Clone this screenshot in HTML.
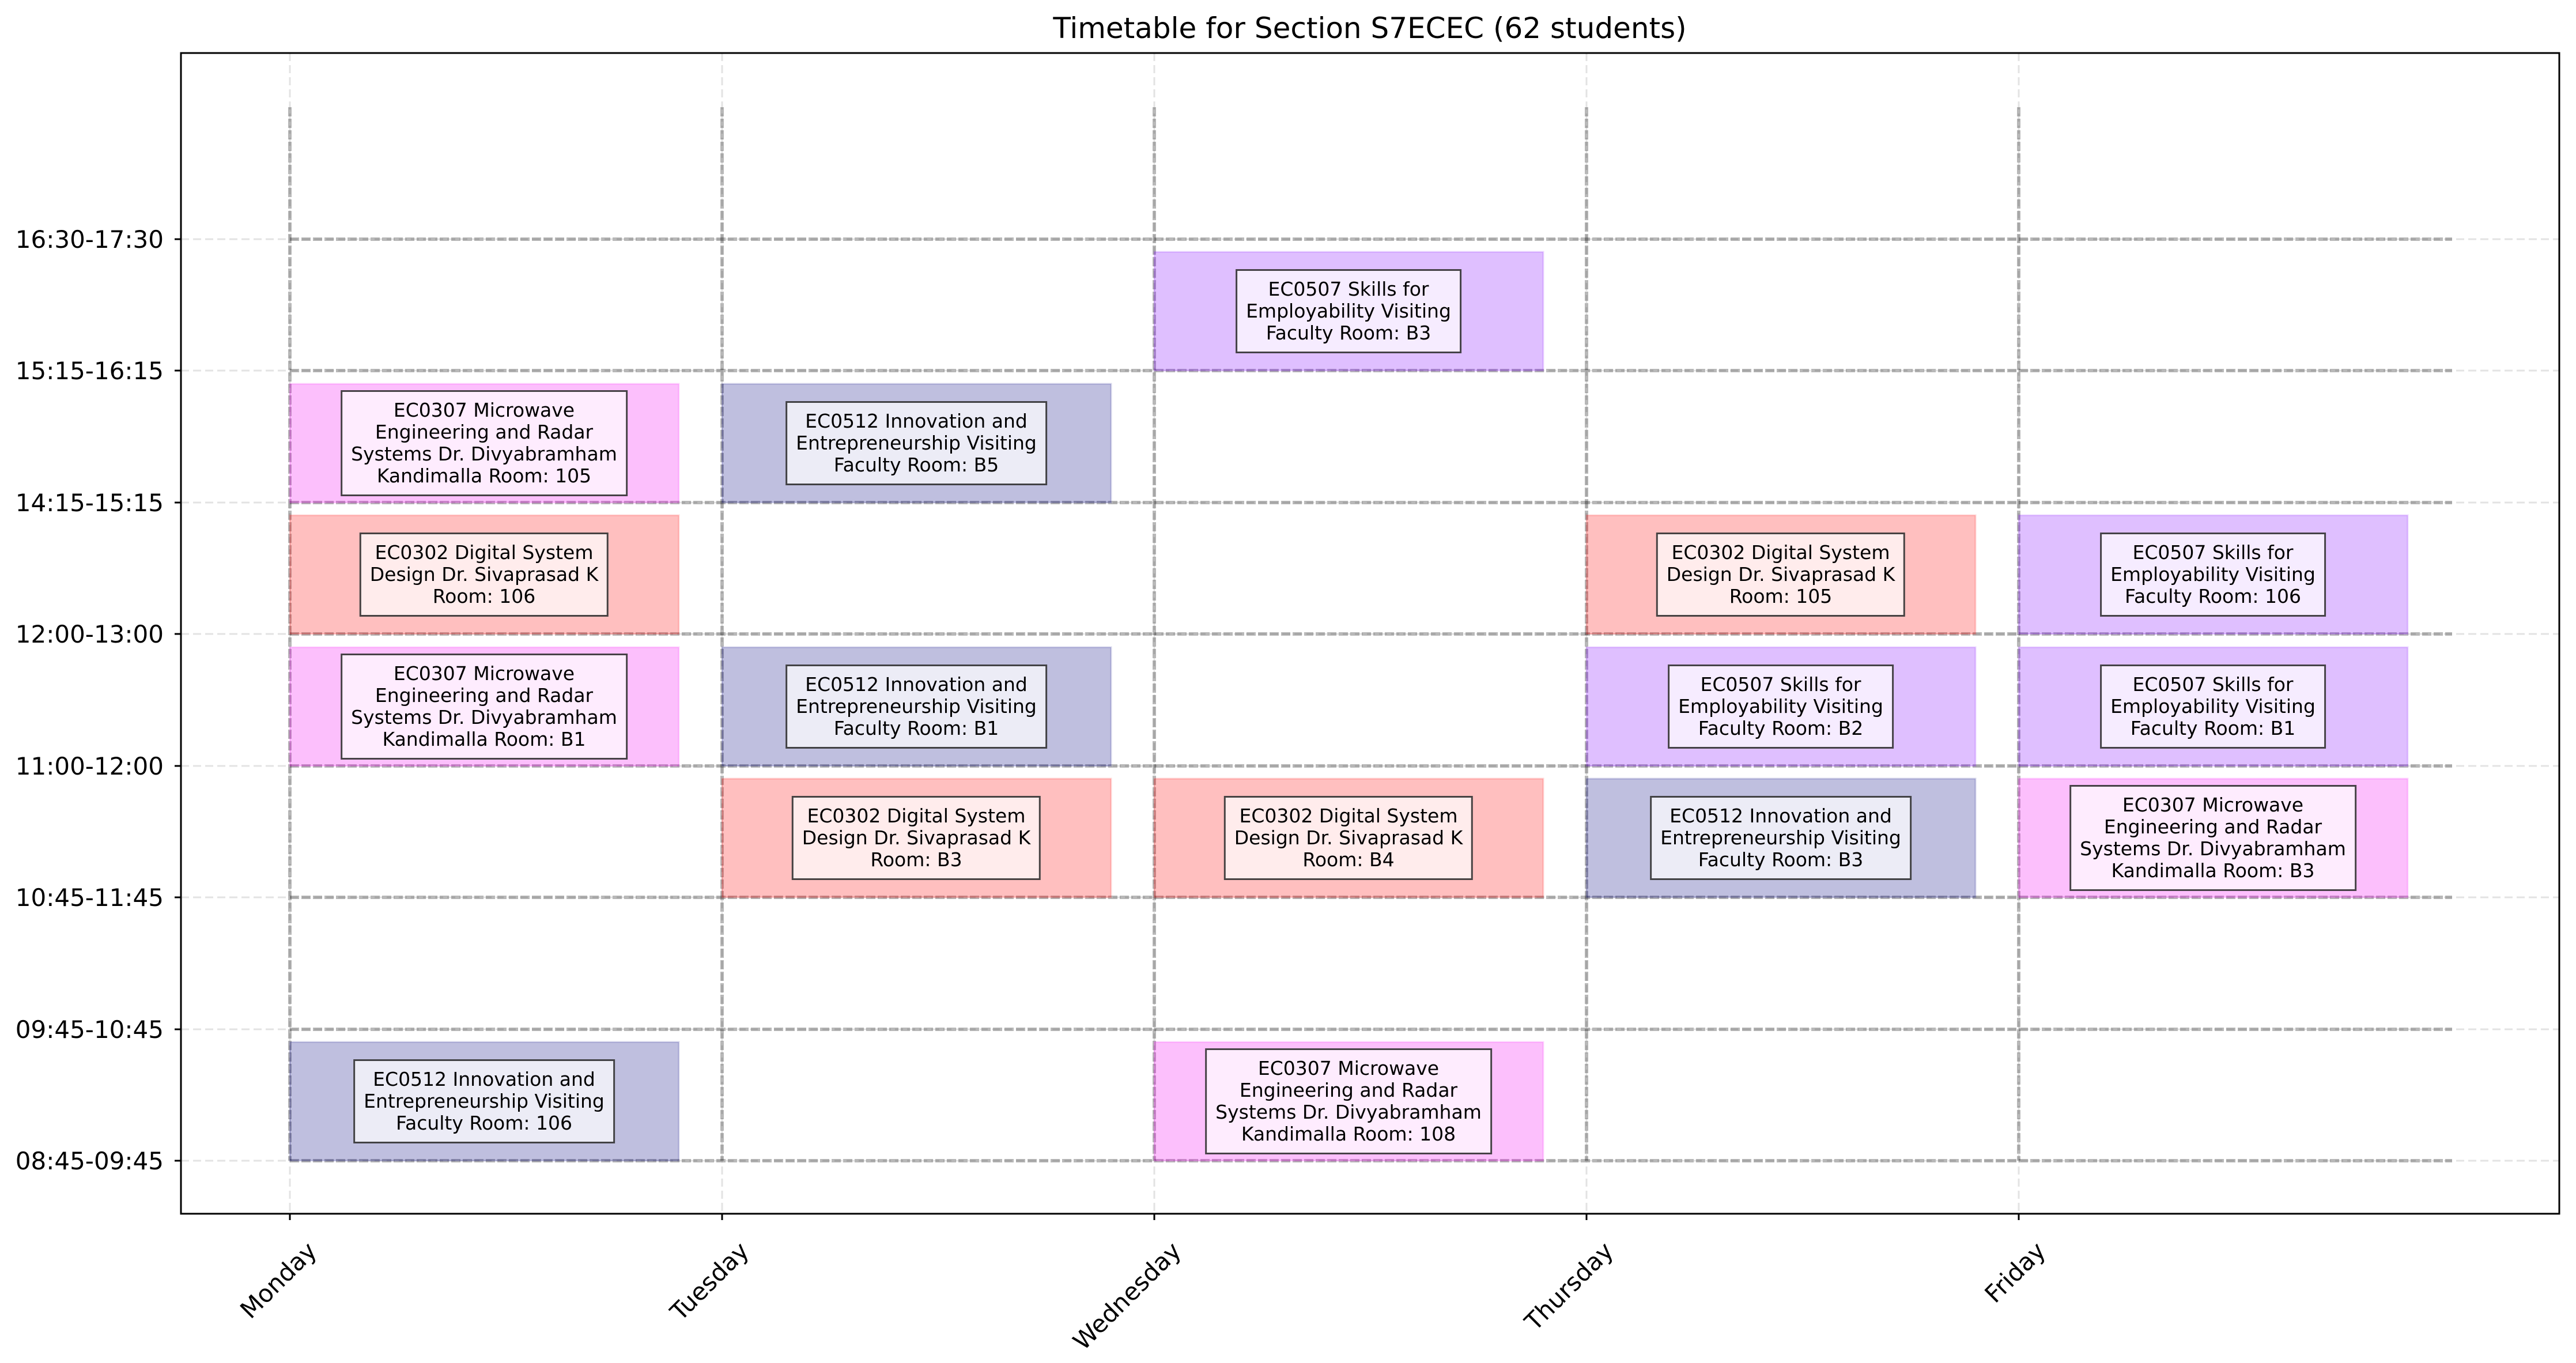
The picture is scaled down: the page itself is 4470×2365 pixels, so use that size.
<!DOCTYPE html>
<html><head><meta charset="utf-8"><style>
body{margin:0;background:#fff;}
#wrap{position:relative;width:4470px;height:2365px;overflow:hidden;font-family:"DejaVu Sans","Liberation Sans",sans-serif;}
svg{position:absolute;left:0;top:0;}
.lb{position:absolute;transform:translate(-50%,-50%);background:rgba(255,255,255,0.7);border:3px solid rgba(0,0,0,0.72);padding:13px 15px;font-size:33px;line-height:38px;text-align:center;white-space:nowrap;color:#000;}
</style></head><body><div id="wrap">
<svg width="4470" height="2365" xmlns="http://www.w3.org/2000/svg" font-family="DejaVu Sans, Liberation Sans, sans-serif">
<rect x="0" y="0" width="4470" height="2365" fill="#fff"/>
<!-- light grid -->
<g stroke="#e3e3e3" stroke-width="3" stroke-dasharray="14,7">
<line x1="503" y1="92" x2="503" y2="2106"/><line x1="1253" y1="92" x2="1253" y2="2106"/><line x1="2003" y1="92" x2="2003" y2="2106"/><line x1="2753" y1="92" x2="2753" y2="2106"/><line x1="3503" y1="92" x2="3503" y2="2106"/>
<line x1="314" y1="2014" x2="4441" y2="2014"/><line x1="314" y1="1786" x2="4441" y2="1786"/><line x1="314" y1="1557" x2="4441" y2="1557"/><line x1="314" y1="1329" x2="4441" y2="1329"/><line x1="314" y1="1100" x2="4441" y2="1100"/><line x1="314" y1="872" x2="4441" y2="872"/><line x1="314" y1="643" x2="4441" y2="643"/><line x1="314" y1="415" x2="4441" y2="415"/>
</g>
<!-- dark grid -->
<g stroke="rgba(0,0,0,0.28)" stroke-width="6" stroke-dasharray="16,4">
<line x1="503" y1="186" x2="503" y2="2014"/><line x1="1253" y1="186" x2="1253" y2="2014"/><line x1="2003" y1="186" x2="2003" y2="2014"/><line x1="2753" y1="186" x2="2753" y2="2014"/><line x1="3503" y1="186" x2="3503" y2="2014"/>
<line x1="503" y1="2014" x2="4255" y2="2014"/><line x1="503" y1="1786" x2="4255" y2="1786"/><line x1="503" y1="1557" x2="4255" y2="1557"/><line x1="503" y1="1329" x2="4255" y2="1329"/><line x1="503" y1="1100" x2="4255" y2="1100"/><line x1="503" y1="872" x2="4255" y2="872"/><line x1="503" y1="643" x2="4255" y2="643"/><line x1="503" y1="415" x2="4255" y2="415"/>
</g>
<!-- blocks -->
<g stroke-width="3">
<rect x="503" y="1808" width="675" height="206" fill="rgba(0,0,128,0.25)" stroke="rgba(0,0,128,0.15)"/>
<rect x="503" y="1123" width="675" height="206" fill="rgba(245,0,245,0.25)" stroke="rgba(245,0,245,0.15)"/>
<rect x="503" y="894" width="675" height="206" fill="rgba(255,0,0,0.25)" stroke="rgba(255,0,0,0.15)"/>
<rect x="503" y="666" width="675" height="206" fill="rgba(245,0,245,0.25)" stroke="rgba(245,0,245,0.15)"/>
<rect x="1253" y="1351" width="675" height="206" fill="rgba(255,0,0,0.25)" stroke="rgba(255,0,0,0.15)"/>
<rect x="1253" y="1123" width="675" height="206" fill="rgba(0,0,128,0.25)" stroke="rgba(0,0,128,0.15)"/>
<rect x="1253" y="666" width="675" height="206" fill="rgba(0,0,128,0.25)" stroke="rgba(0,0,128,0.15)"/>
<rect x="2003" y="1808" width="675" height="206" fill="rgba(245,0,245,0.25)" stroke="rgba(245,0,245,0.15)"/>
<rect x="2003" y="1351" width="675" height="206" fill="rgba(255,0,0,0.25)" stroke="rgba(255,0,0,0.15)"/>
<rect x="2003" y="437" width="675" height="206" fill="rgba(128,0,255,0.25)" stroke="rgba(128,0,255,0.15)"/>
<rect x="2753" y="1351" width="675" height="206" fill="rgba(0,0,128,0.25)" stroke="rgba(0,0,128,0.15)"/>
<rect x="2753" y="1123" width="675" height="206" fill="rgba(128,0,255,0.25)" stroke="rgba(128,0,255,0.15)"/>
<rect x="2753" y="894" width="675" height="206" fill="rgba(255,0,0,0.25)" stroke="rgba(255,0,0,0.15)"/>
<rect x="3503" y="1351" width="675" height="206" fill="rgba(245,0,245,0.25)" stroke="rgba(245,0,245,0.15)"/>
<rect x="3503" y="1123" width="675" height="206" fill="rgba(128,0,255,0.25)" stroke="rgba(128,0,255,0.15)"/>
<rect x="3503" y="894" width="675" height="206" fill="rgba(128,0,255,0.25)" stroke="rgba(128,0,255,0.15)"/>
</g>
<!-- axes -->
<rect x="314" y="92" width="4127" height="2014" fill="none" stroke="#000" stroke-width="3"/>
<g stroke="#000" stroke-width="3">
<line x1="303" y1="2014" x2="314" y2="2014"/><line x1="303" y1="1786" x2="314" y2="1786"/><line x1="303" y1="1557" x2="314" y2="1557"/><line x1="303" y1="1329" x2="314" y2="1329"/><line x1="303" y1="1100" x2="314" y2="1100"/><line x1="303" y1="872" x2="314" y2="872"/><line x1="303" y1="643" x2="314" y2="643"/><line x1="303" y1="415" x2="314" y2="415"/>
<line x1="503" y1="2106" x2="503" y2="2117"/><line x1="1253" y1="2106" x2="1253" y2="2117"/><line x1="2003" y1="2106" x2="2003" y2="2117"/><line x1="2753" y1="2106" x2="2753" y2="2117"/><line x1="3503" y1="2106" x2="3503" y2="2117"/>
</g>
<g font-size="42" text-anchor="end" fill="#000">
<text x="284" y="2029">08:45-09:45</text><text x="284" y="1801">09:45-10:45</text><text x="284" y="1572">10:45-11:45</text><text x="284" y="1344">11:00-12:00</text><text x="284" y="1115">12:00-13:00</text><text x="284" y="887">14:15-15:15</text><text x="284" y="658">15:15-16:15</text><text x="284" y="430">16:30-17:30</text>
</g>
<g font-size="42" text-anchor="end" fill="#000">
<text transform="translate(552,2173) rotate(-45)">Monday</text>
<text transform="translate(1302,2173) rotate(-45)">Tuesday</text>
<text transform="translate(2052,2173) rotate(-45)">Wednesday</text>
<text transform="translate(2802,2173) rotate(-45)">Thursday</text>
<text transform="translate(3552,2173) rotate(-45)">Friday</text>
</g>
<text x="2377" y="66" font-size="50" text-anchor="middle" fill="#000">Timetable for Section S7ECEC (62 students)</text>
</svg>
<div class="lb" style="left:840px;top:1911px">EC0512 Innovation and<br>Entrepreneurship Visiting<br>Faculty Room: 106</div>
<div class="lb" style="left:840px;top:1226px">EC0307 Microwave<br>Engineering and Radar<br>Systems Dr. Divyabramham<br>Kandimalla Room: B1</div>
<div class="lb" style="left:840px;top:997px">EC0302 Digital System<br>Design Dr. Sivaprasad K<br>Room: 106</div>
<div class="lb" style="left:840px;top:769px">EC0307 Microwave<br>Engineering and Radar<br>Systems Dr. Divyabramham<br>Kandimalla Room: 105</div>
<div class="lb" style="left:1590px;top:1454px">EC0302 Digital System<br>Design Dr. Sivaprasad K<br>Room: B3</div>
<div class="lb" style="left:1590px;top:1226px">EC0512 Innovation and<br>Entrepreneurship Visiting<br>Faculty Room: B1</div>
<div class="lb" style="left:1590px;top:769px">EC0512 Innovation and<br>Entrepreneurship Visiting<br>Faculty Room: B5</div>
<div class="lb" style="left:2340px;top:1911px">EC0307 Microwave<br>Engineering and Radar<br>Systems Dr. Divyabramham<br>Kandimalla Room: 108</div>
<div class="lb" style="left:2340px;top:1454px">EC0302 Digital System<br>Design Dr. Sivaprasad K<br>Room: B4</div>
<div class="lb" style="left:2340px;top:540px">EC0507 Skills for<br>Employability Visiting<br>Faculty Room: B3</div>
<div class="lb" style="left:3090px;top:1454px">EC0512 Innovation and<br>Entrepreneurship Visiting<br>Faculty Room: B3</div>
<div class="lb" style="left:3090px;top:1226px">EC0507 Skills for<br>Employability Visiting<br>Faculty Room: B2</div>
<div class="lb" style="left:3090px;top:997px">EC0302 Digital System<br>Design Dr. Sivaprasad K<br>Room: 105</div>
<div class="lb" style="left:3840px;top:1454px">EC0307 Microwave<br>Engineering and Radar<br>Systems Dr. Divyabramham<br>Kandimalla Room: B3</div>
<div class="lb" style="left:3840px;top:1226px">EC0507 Skills for<br>Employability Visiting<br>Faculty Room: B1</div>
<div class="lb" style="left:3840px;top:997px">EC0507 Skills for<br>Employability Visiting<br>Faculty Room: 106</div>
</div></body></html>
